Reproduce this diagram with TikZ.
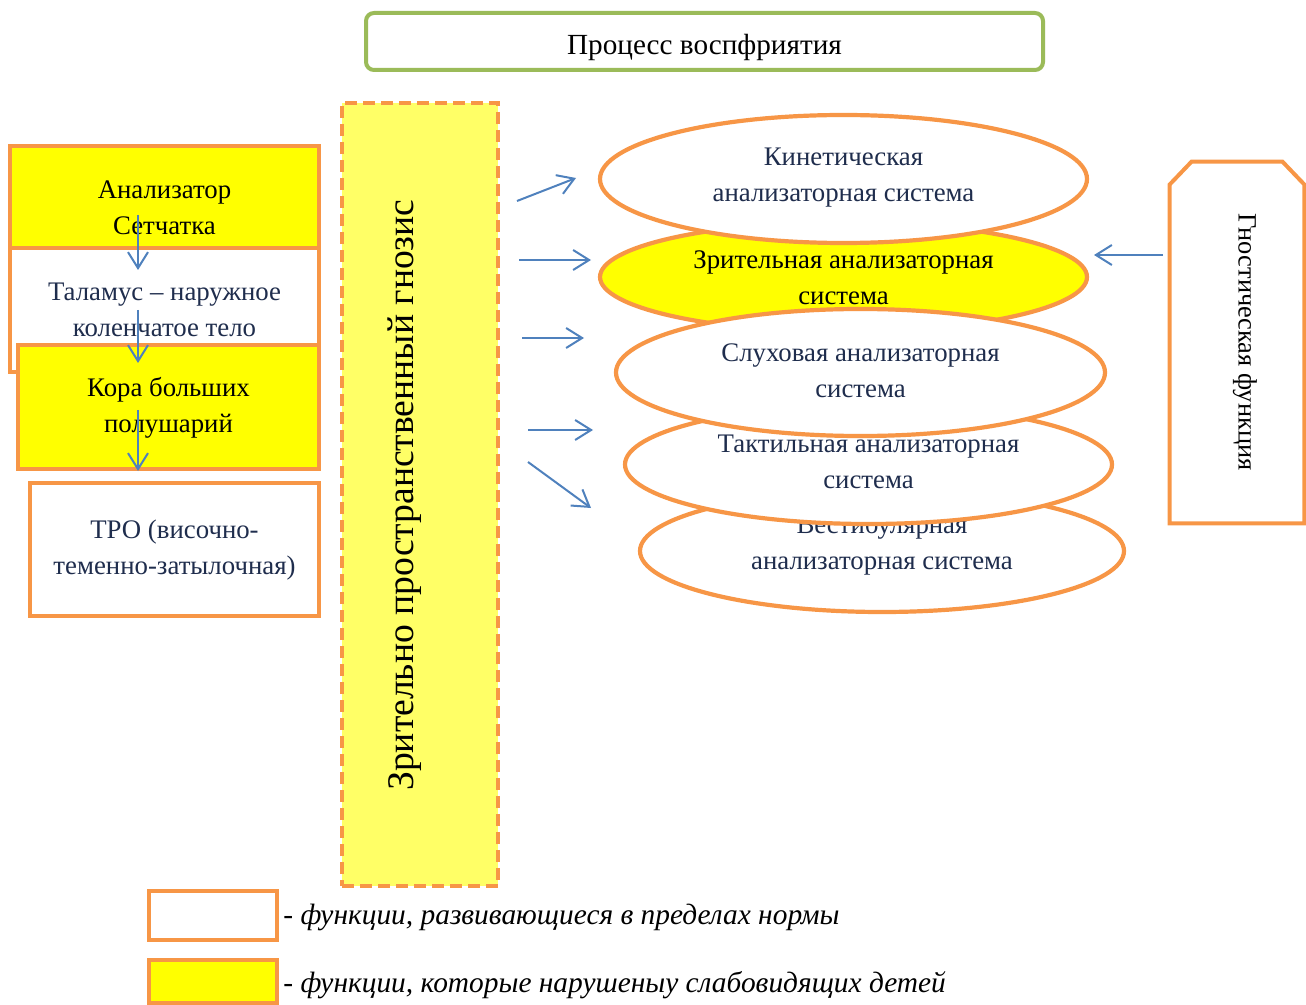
\documentclass[tikz,border=0pt]{standalone}
\usepackage{fontspec}
\setmainfont{Liberation Serif}
\usetikzlibrary{arrows.meta,shapes.geometric,calc}
\definecolor{org}{HTML}{F79646}
\definecolor{yel}{HTML}{FFFF00}
\definecolor{lyel}{HTML}{FFFF66}
\definecolor{grn}{HTML}{9BBB59}
\definecolor{blu}{HTML}{4F81BD}
\definecolor{navy}{HTML}{1F2D4D}
\tikzset{
  box/.style={draw=org,line width=2pt,inner sep=0pt},
  ell/.style={ellipse,draw=org,line width=2.1pt,inner sep=0pt},
  txt/.style={align=center,font=\fontsize{13.4}{18}\selectfont,inner sep=0pt},
  arr/.style={draw=blu,line width=1pt,-{Straight Barb[length=8pt,width=10pt,line width=1pt]}}
}
\begin{document}
\begin{tikzpicture}[x=0.5pt,y=-0.5pt]
\useasboundingbox (0,0) rectangle (1306,1005);
% title
\node (title) [draw=grn,line width=2pt,rounded corners=4pt,minimum width=338.5pt,minimum height=28.5pt,inner sep=0pt] at (704.5,41.5) {};
\node (titlet) [inner sep=0pt,font=\fontsize{14.6}{16}\selectfont] at (704.5,47) {Процесс воспфриятия};
% dashed box
\node (gnoz) [draw=org,fill=lyel,line width=2pt,dash pattern=on 6pt off 3pt,minimum width=78pt,minimum height=391.5pt,inner sep=0pt] at (420,494.5) {};
\node (gnozt) [rotate=90,inner sep=0pt,font=\fontsize{18.8}{20}\selectfont] at (405,495) {Зрительно пространственный гнозис};
% left column
\node (an) [box,fill=yel,minimum width=154.5pt,minimum height=51pt] at (164.5,197) {};
\node [txt] at (164.5,208) {Анализатор\\Сетчатка};
\node (tal) [box,fill=white,minimum width=154.5pt,minimum height=62pt] at (164.5,310) {};
\node [txt,text=navy] at (164.5,310) {Таламус – наружное\\коленчатое тело};
\node (kora) [box,fill=yel,minimum width=150.5pt,minimum height=62pt] at (168.5,407) {};
\node [txt] at (168.5,408) {Кора больших\\полушарий};
\node (tpo) [box,fill=white,minimum width=144.5pt,minimum height=66.5pt] at (174.5,549.5) {};
\node [txt,text=navy] at (174.5,550) {ТРО (височно-\\теменно-затылочная)};
\coordinate (a1s) at (138,215); \coordinate (a1e) at (138,270);
\coordinate (a2s) at (138,310); \coordinate (a2e) at (138,363);
\coordinate (a3s) at (138,410); \coordinate (a3e) at (138,471);
\draw[arr] (a1s) -- (a1e);
\draw[arr] (a2s) -- (a2e);
\draw[arr] (a3s) -- (a3e);
% ellipses
\node (vest) [ell,fill=white,minimum width=242pt,minimum height=61pt] at (882,551) {};
\node (vestt) [txt,text=navy] at (882,545) {Вестибулярная\\анализаторная система};
\node (takt) [ell,fill=white,minimum width=243.5pt,minimum height=59.5pt] at (868.5,464.5) {};
\node (taktt) [txt,text=navy] at (868.5,462) {Тактильная анализаторная\\система};
\node (vis) [ell,fill=yel,minimum width=243.5pt,minimum height=55pt] at (843.5,277) {};
\node (vist) [txt] at (843.5,278) {Зрительная анализаторная\\система};
\node (kin) [ell,fill=white,minimum width=243.5pt,minimum height=64pt] at (843.5,179) {};
\node (kint) [txt,text=navy] at (843.5,178) {Кинетическая\\анализаторная система};
\node (aud) [ell,fill=white,minimum width=244.5pt,minimum height=63.5pt] at (860.5,372.5) {};
\node (audt) [txt,text=navy] at (860.5,371) {Слуховая анализаторная\\система};
% arrows to ellipses
\coordinate (r1s) at (517,201); \coordinate (r1e) at (576,178);
\coordinate (r2s) at (519,260); \coordinate (r2e) at (591,260);
\coordinate (r3s) at (522,338); \coordinate (r3e) at (584,338);
\coordinate (r4s) at (528,430); \coordinate (r4e) at (593,430);
\coordinate (r5s) at (528,462); \coordinate (r5e) at (591,508);
\draw[arr] (r1s) -- (r1e);
\draw[arr] (r2s) -- (r2e);
\draw[arr] (r3s) -- (r3e);
\draw[arr] (r4s) -- (r4e);
\draw[arr] (r5s) -- (r5e);
% gnostic function
\node (gn) [minimum width=67pt,minimum height=180.5pt,inner sep=0pt] at (1237,342.5) {};
\draw[draw=org,line width=2pt,line join=miter]
  (gn.south west) -- ($(gn.north west)+(0,23)$) -- ($(gn.north west)+(22,0)$)
  -- ($(gn.north east)+(-22,0)$) -- ($(gn.north east)+(0,23)$) -- (gn.south east) -- cycle;
\node (gnt) [rotate=-90,inner sep=0pt,font=\fontsize{13.2}{15}\selectfont] at (1245,342) {Гностическая функция};
\coordinate (g1s) at (1163,255); \coordinate (g1e) at (1094,255);
\draw[arr] (g1s) -- (g1e);
% legend
\node (leg1) [box,fill=white,minimum width=64pt,minimum height=24.5pt] at (213,915.5) {};
\node (leg2) [box,fill=yel,minimum width=64pt,minimum height=21.5pt] at (213,981.5) {};
\node (leg1t) [anchor=west,inner sep=0pt,font=\fontsize{14.7}{16}\selectfont\itshape] at (283,917) {- функции, развивающиеся в пределах нормы};
\node (leg2t) [anchor=west,inner sep=0pt,font=\fontsize{14.7}{16}\selectfont\itshape] at (283,985) {- функции, которые нарушеныу слабовидящих детей};
\end{tikzpicture}
\end{document}
